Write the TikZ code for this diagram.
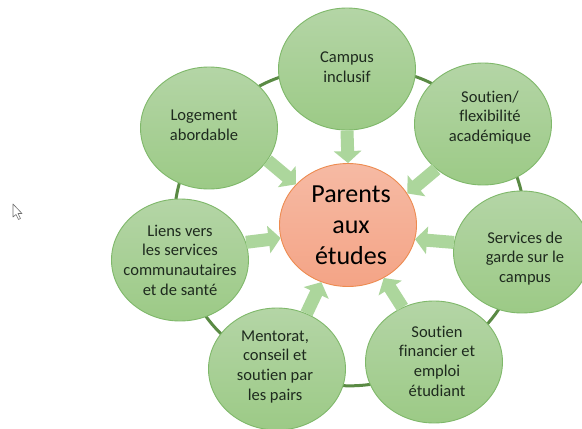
\documentclass[tikz,border=0pt]{standalone}
\usepackage{fontspec}
\setmainfont[Ligatures=NoCommon]{Carlito}
\usetikzlibrary{arrows.meta,backgrounds,shapes.geometric}
\newcommand{\placed}[3]{\raisebox{\dimexpr #2-0.25em-2pt\relax}[0pt][0pt]{\makebox[0pt][c]{\kern\dimexpr 2\dimexpr #1\relax\relax\begin{tabular}{@{}c@{}}#3\end{tabular}}}}
\tikzset{
  x=1pt,y=-1pt,
  petal/.style={ellipse,draw=petalline,line width=0.9pt,top color=petaltop,bottom color=petalbot,
    minimum width=137pt,minimum height=122pt,inner sep=0pt,text=inktext,
    font=\fontsize{16.5}{19.7}\selectfont},
  hub/.style={ellipse,draw=hubline,line width=0.9pt,top color=hubtop,bottom color=hubbot,
    minimum width=137pt,minimum height=123pt,inner sep=0pt,text=black,
    font=\fontsize{26}{31}\selectfont},
  flow/.style={line width=13pt,draw=flowcol,-{Triangle[width=27pt,length=12pt]}},
  ring/.style={line width=3pt,draw=ringcol}
}
\definecolor{petalline}{HTML}{7FB86A}
\definecolor{petaltop}{HTML}{B4D5A6}
\definecolor{petalbot}{HTML}{9CCA86}
\definecolor{hubline}{HTML}{ED8B50}
\definecolor{hubtop}{HTML}{F6BAA4}
\definecolor{hubbot}{HTML}{F4A486}
\definecolor{flowcol}{HTML}{ACD69C}
\definecolor{ringcol}{HTML}{5A8A44}
\definecolor{inktext}{HTML}{1E2A1E}
\definecolor{cursorcol}{HTML}{6E6E6E}
\begin{document}
\begin{tikzpicture}
\useasboundingbox (0,0) rectangle (582,429);
\node[hub] (hubn) at (348,225) {\placed{3pt}{0pt}{Parents\\aux\\études}};
\node[petal] (campus) at (347,69) {\placed{0pt}{2.5pt}{Campus\\inclusif}};
\node[petal] (acad) at (483,124) {\placed{7pt}{8pt}{Soutien/\\flexibilité\\académique}};
\node[petal] (garde) at (522,252) {\placed{3pt}{-5pt}{Services de\\garde sur le\\campus}};
\node[petal] (fin) at (434,362) {\placed{3pt}{1pt}{Soutien\\financier et\\emploi\\étudiant}};
\node[petal] (mentor) at (277,369) {\placed{-2pt}{4pt}{Mentorat,\\conseil et\\soutien par\\les pairs}};
\node[petal] (liens) at (180,260) {\placed{0pt}{0pt}{Liens vers\\les services\\communautaires\\et de santé}};
\node[petal] (loge) at (209,128) {\placed{-5pt}{3.5pt}{Logement\\abordable}};
\begin{pgfonlayer}{background}
\fill[white] (0,0) rectangle (582,429);
\draw[ring] (campus.center) to[bend left=26] (acad.center);
\draw[ring] (acad.center) to[bend left=26] (garde.center);
\draw[ring] (garde.center) to[bend left=26] (fin.center);
\draw[ring] (fin.center) to[bend left=26] (mentor.center);
\draw[ring] (mentor.center) to[bend left=26] (liens.center);
\draw[ring] (liens.center) to[bend left=26] (loge.center);
\draw[ring] (loge.center) to[bend left=26] (campus.center);
\end{pgfonlayer}
\draw[flow] (campus.south) -- (hubn.north);
\draw[flow] (acad.224) -- (hubn.28);
\draw[flow] (garde.172) -- (hubn.348);
\draw[flow] (fin.120) -- (hubn.304);
\draw[flow] (mentor.62) -- (hubn.245.5);
\draw[flow] (liens.15) -- (hubn.191);
\draw[flow] (loge.331.5) -- (hubn.142);
\draw[cursorcol,fill=white,line width=0.6pt,line join=round]
  (13,204) -- (13,217) -- (16,214.5) -- (18.5,219.5) -- (20.5,218.5) -- (18,213.5) -- (22,213.5) -- cycle;
\end{tikzpicture}
\end{document}
